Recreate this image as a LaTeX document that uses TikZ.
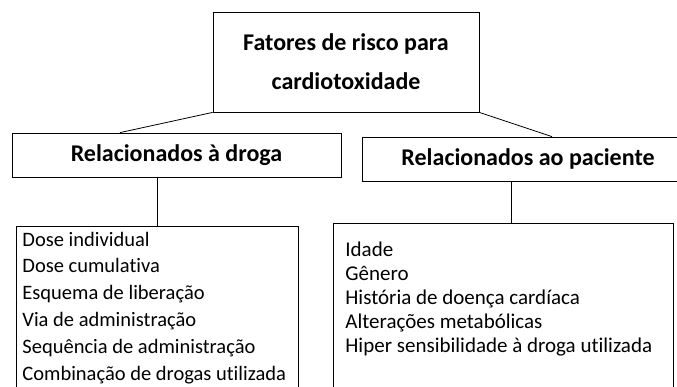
\documentclass[tikz,border=0pt]{standalone}
\usepackage{fontspec}
\setmainfont{Carlito}[Ligatures=CommonOff]
\begin{document}
\begin{tikzpicture}[x=1pt, y=-1pt, line width=0.8pt,
    box/.style={draw, inner sep=0pt},
    head/.style={font=\fontsize{24}{39}\selectfont\bfseries, align=center},
    itemd/.style={anchor=base west, inner sep=0pt, font=\fontsize{20.5}{25}\selectfont},
    itemp/.style={anchor=base west, inner sep=0pt, font=\fontsize{21}{25}\selectfont}]
    \useasboundingbox (0,0) rectangle (677,386);
    \clip (0,0) rectangle (677,386);

    \node[box, head, minimum width=266pt, minimum height=100pt] (fatores) at (346,62) {Fatores de risco para\\cardiotoxidade};
    \node[box, head, minimum width=329pt, minimum height=44pt] (droga) at (176.5,155) {Relacionados à droga};
    \node[box, head, minimum width=332pt, minimum height=44pt] (paciente) at (528,159) {Relacionados ao paciente};
    \node[box, minimum width=282pt, minimum height=174pt] (listadroga) at (157,313) {};
    \node[box, minimum width=340pt, minimum height=176pt] (listapaciente) at (503,311) {};
    \coordinate (pline) at ([xshift=8pt]listapaciente.north);

    % linhas
    \draw (fatores.south west) -- ([xshift=-56.5pt]droga.north);
    \draw (fatores.south east) -- ([xshift=24pt]paciente.north);
    \draw (listadroga.north |- droga.south) -- (listadroga.north);
    \draw (pline |- paciente.south) -- (pline);

    % itens
    \foreach \txt [count=\i from 0] in {Dose individual, Dose cumulativa, Esquema de liberação, Via de administração, Sequência de administração, Combinação de drogas utilizada}
        \node[itemd] (d\i) at (22, {246+26.8*\i}) {\txt};
    \foreach \txt [count=\i from 0] in {Idade, Gênero, História de doença cardíaca, Alterações metabólicas, Hiper sensibilidade à droga utilizada}
        \node[itemp] (p\i) at (345, {256+24*\i}) {\txt};

\end{tikzpicture}
\end{document}
